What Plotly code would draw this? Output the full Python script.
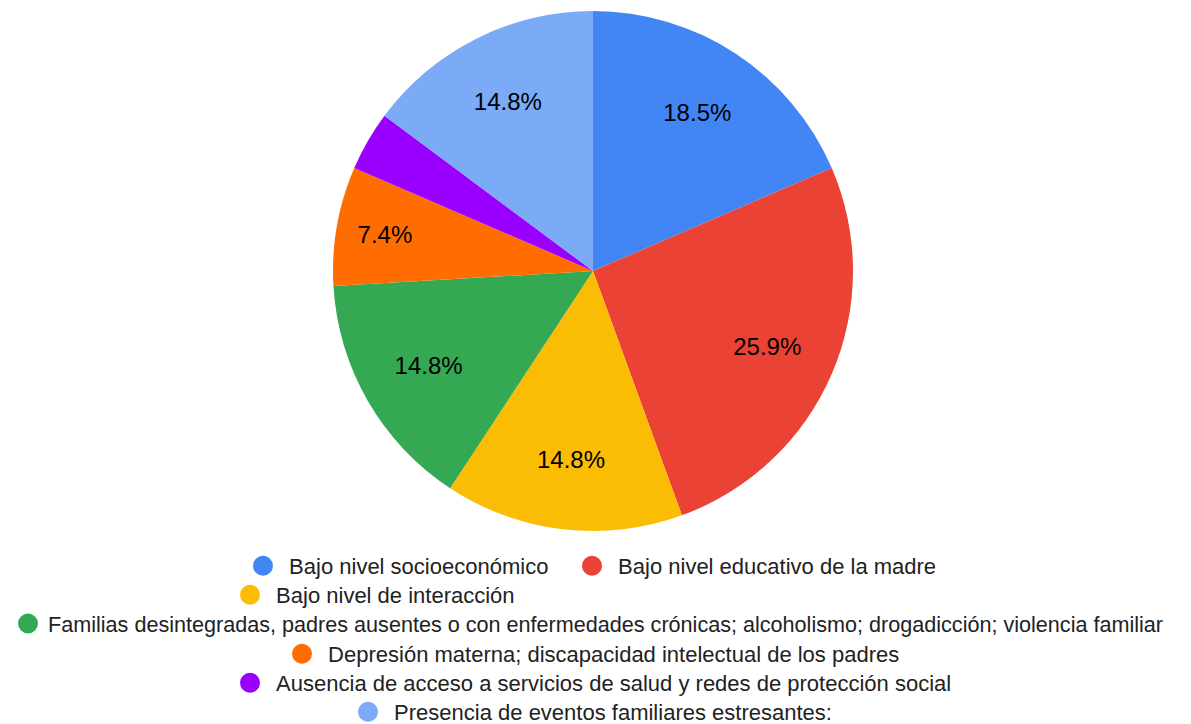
import plotly.graph_objects as go

labels = [
    'Bajo nivel socioeconómico',
    'Bajo nivel educativo de la madre',
    'Bajo nivel de interacción',
    'Familias desintegradas, padres ausentes o con enfermedades crónicas; alcoholismo; drogadicción; violencia familiar',
    'Depresión materna; discapacidad intelectual de los padres',
    'Ausencia de acceso a servicios de salud y redes de protección social',
    'Presencia de eventos familiares estresantes:',
]
counts = [5, 7, 4, 4, 2, 1, 4]
colors = ['#4285f4', '#ea4335', '#fbbc04', '#34a853', '#ff6d01', '#9900ff', '#7baaf7']

W, H = 1191, 724
font = 'Liberation Sans, Arial, sans-serif'

# pie box in pixels: centre (593, 270), radius 260
dom = dict(x=[(593 - 260 - 8) / W, (593 + 260 - 8) / W],
           y=[1 - 526 / H, 1.0])

fig = go.Figure()
fig.add_trace(go.Pie(
    labels=labels, values=counts,
    marker=dict(colors=colors, line=dict(width=0)),
    sort=False, direction='clockwise', rotation=0,
    textinfo='none', showlegend=False,
    hoverinfo='label+percent',
    domain=dom,
))
# transparent ring that only carries the slice labels, so they sit at ~0.73 R
fig.add_trace(go.Pie(
    labels=labels, values=counts,
    marker=dict(colors=['rgba(0,0,0,0)'] * len(counts), line=dict(width=0)),
    sort=False, direction='clockwise', rotation=0, hole=0.46,
    textposition='inside',
    texttemplate=['%{percent:.1%}' if c / sum(counts) > 0.05 else '' for c in counts],
    insidetextorientation='horizontal',
    textfont=dict(family=font, size=24, color='#000000'),
    showlegend=False, hoverinfo='skip',
    domain=dom,
))

# legend entries laid out like the original: (marker centre x, row centre y) in px
legend_pos = [(263, 566), (592, 566), (250, 595), (28, 624), (302, 654), (250, 683), (368, 712)]

layout_legends = {}
for i, (lab, col, (px, py)) in enumerate(zip(labels, colors, legend_pos)):
    key = 'legend' if i == 0 else f'legend{i + 1}'
    long_row = px < 30
    fig.add_trace(go.Scatter(
        x=[None], y=[None], mode='markers', name=lab if long_row else '\u00a0' + lab,
        marker=dict(color=col, size=16, symbol='circle', line=dict(color=col, width=4)),
        legend=key,
    ))
    layout_legends[key] = dict(
        orientation='h', xanchor='left', x=max(px - 28, 0) / W, yanchor='middle', y=1 - (py - 8) / H,
        font=dict(family=font, size=21.6 if long_row else 22, color='#222222'),
        bgcolor='rgba(0,0,0,0)', itemclick=False, itemdoubleclick=False,
    )

fig.update_layout(
    width=W, height=H,
    margin=dict(l=0, r=0, t=0, b=0, autoexpand=False),
    paper_bgcolor='white', plot_bgcolor='white',
    xaxis=dict(visible=False), yaxis=dict(visible=False),
    **layout_legends,
)

fig.write_html('out.html')
